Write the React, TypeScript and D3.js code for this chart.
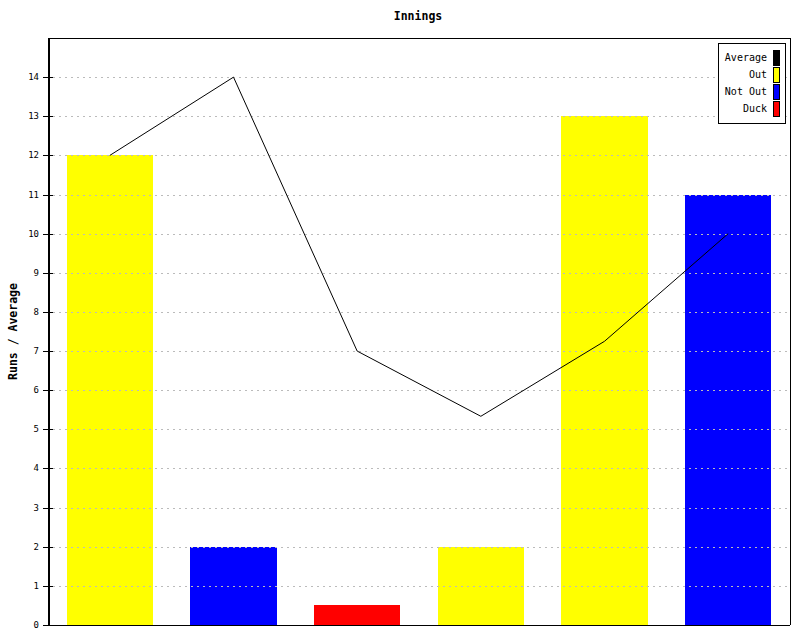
import * as d3 from "d3"

// Innings data
const innings = ["1", "2", "3", "4", "5", "6"]
const runs = [12, 2, 0.5, 2, 13, 11]
const outcome = ["Out", "Not Out", "Duck", "Out", "Out", "Not Out"]
const average = [12, 14, 7, 16 / 3, 7.25, 10]
const yTicks = [0, 1, 2, 3, 4, 5, 6, 7, 8, 9, 10, 11, 12, 13, 14]

const legendLabels = ["Average", "Out", "Not Out", "Duck"]
const colors: Record<string, string> = {
  Average: "#000000",
  Out: "#ffff00",
  "Not Out": "#0000ff",
  Duck: "#ff0000",
}

const width = 800
const height = 640
const margin = { top: 38, right: 10, bottom: 15, left: 48.5 }
const mono = "'DejaVu Sans Mono', monospace"

const App = () => {
  const x = d3
    .scaleBand<string>()
    .domain(innings)
    .range([48, width - margin.right])
    .paddingInner(0.3)
    .paddingOuter(0.15)

  const y = d3
    .scaleLinear()
    .domain([0, 15])
    .range([height - margin.bottom, margin.top])

  const line = d3
    .line<number>()
    .x((d, i) => (x(innings[i]) ?? 0) + x.bandwidth() / 2)
    .y((d) => y(d))

  const plotRight = width - margin.right
  const plotBottom = height - margin.bottom

  return (
    <svg
      width={width}
      height={height}
      style={{ position: "absolute", left: 0, top: 0, background: "#fff" }}
    >
      {/* bars */}
      {runs.map((v, i) => (
        <rect
          key={i}
          x={x(innings[i])}
          y={y(v)}
          width={x.bandwidth()}
          height={y(0) - y(v)}
          fill={colors[outcome[i]]}
          shapeRendering="crispEdges"
        />
      ))}

      {/* grid */}
      {yTicks.slice(1).map((t) => (
        <line
          key={t}
          x1={margin.left + 4}
          x2={plotRight}
          y1={Math.round(y(t)) + 0.5}
          y2={Math.round(y(t)) + 0.5}
          stroke="#bbbbbb"
          strokeDasharray="2,4"
          shapeRendering="crispEdges"
        />
      ))}

      {/* average line */}
      <path d={line(average) ?? ""} fill="none" stroke="#000" strokeWidth={1} />

      {/* frame */}
      <line x1={margin.left} x2={plotRight} y1={margin.top + 0.5} y2={margin.top + 0.5} stroke="#000" shapeRendering="crispEdges" />
      <line x1={plotRight + 0.5} x2={plotRight + 0.5} y1={margin.top} y2={plotBottom} stroke="#000" shapeRendering="crispEdges" />
      <line x1={margin.left} x2={plotRight} y1={plotBottom + 0.5} y2={plotBottom + 0.5} stroke="#000" strokeWidth={1.5} shapeRendering="crispEdges" />
      <line x1={margin.left + 0.5} x2={margin.left + 0.5} y1={margin.top} y2={plotBottom} stroke="#000" strokeWidth={1.5} shapeRendering="crispEdges" />

      {/* y ticks */}
      {yTicks.map((t) => (
        <g key={t} transform={`translate(0,${Math.round(y(t)) + 0.5})`}>
          <line x1={43} x2={53} stroke="#000" shapeRendering="crispEdges" />
          <text
            x={39}
            y={0}
            textAnchor="end"
            dominantBaseline="middle"
            fontFamily={mono}
            fontSize={9}
            fill="#000"
          >
            {t}
          </text>
        </g>
      ))}

      {/* title */}
      <text x={418} y={20} textAnchor="middle" fontFamily={mono} fontWeight="bold" fontSize={11.5} fill="#000">
        Innings
      </text>

      {/* y axis label */}
      <text
        transform={`translate(17,${(margin.top + plotBottom) / 2}) rotate(-90)`}
        textAnchor="middle"
        fontFamily={mono}
        fontWeight="bold"
        fontSize={11.5}
        fill="#000"
      >
        Runs / Average
      </text>

      {/* legend */}
      <g>
        <rect x={718.5} y={43.5} width={67} height={80} fill="#fff" stroke="#000" shapeRendering="crispEdges" />
        {legendLabels.map((label, i) => (
          <g key={label} transform={`translate(0,${50 + i * 17})`}>
            <text
              x={767}
              y={8}
              textAnchor="end"
              dominantBaseline="middle"
              fontFamily={mono}
              fontSize={10}
              fill="#000"
            >
              {label}
            </text>
            <rect
              x={773.5}
              y={0.5}
              width={6}
              height={15}
              fill={colors[label]}
              stroke="#000"
              shapeRendering="crispEdges"
            />
          </g>
        ))}
      </g>
    </svg>
  )
}

export default App
